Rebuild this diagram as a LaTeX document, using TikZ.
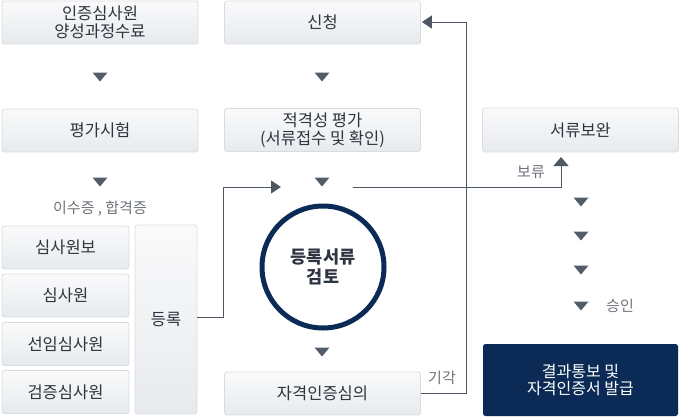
\documentclass[tikz,border=0pt]{standalone}
\usepackage{fontspec}
\setmainfont{Noto Sans CJK KR}
\usetikzlibrary{arrows.meta}
\definecolor{boxtop}{HTML}{FAFAFB}
\definecolor{boxbot}{HTML}{E7EAED}
\definecolor{boxline}{HTML}{D9DCDF}
\definecolor{txt}{HTML}{2E3540}
\definecolor{lbl}{HTML}{6E737A}
\definecolor{tricol}{HTML}{535D6A}
\definecolor{linecol}{HTML}{4E5764}
\definecolor{navy}{HTML}{0B2B56}
\tikzset{
  box/.style={draw=boxline, line width=0.8pt, rounded corners=2.5pt, top color=boxtop, bottom color=boxbot,
    minimum width=196pt, minimum height=43pt, inner sep=0pt, align=center, text=txt,
    font=\fontsize{16.5}{18}\selectfont},
  darkbox/.style={fill=navy, rounded corners=2.5pt, minimum width=195pt, minimum height=72pt,
    inner sep=0pt, align=center, text=white, font=\fontsize{16}{16.5}\selectfont},
  lab/.style={text=lbl, inner sep=0pt, font=\fontsize{15}{15}\selectfont},
  conn/.style={draw=linecol, line width=1pt},
  downtri/.pic={\fill[tricol] (-7.5,-4.5) -- (7.5,-4.5) -- (0,4.5) -- cycle;}
}
\begin{document}
\begin{tikzpicture}[x=1pt,y=-1pt]
\useasboundingbox (0,0) rectangle (679,418);
% left column
\node[box] (b1) at (100,22.5) {인증심사원\\양성과정수료};
\node[box] (b2) at (100,130.5) {평가시험};
\node[lab] (lb1) at (100,209) {이수증 , 합격증};
\node[box, minimum width=127pt] (s1) at (65.5,247.5) {심사원보};
\node[box, minimum width=127pt] (s2) at (65.5,295.5) {심사원};
\node[box, minimum width=127pt] (s3) at (65.5,344) {선임심사원};
\node[box, minimum width=127pt] (s4) at (65.5,392) {검증심사원};
\node[box, minimum width=62pt, minimum height=189pt] (reg) at (166,319.5) {등록};
% middle column
\node[box] (m1) at (322.5,22.5) {신청};
\node[box] (m2) at (322.5,130) {적격성 평가\\(서류접수 및 확인)};
\node[draw=navy, line width=5pt, circle, minimum size=122pt, inner sep=0pt, align=center, text=txt,
  font=\fontsize{17.5}{19.5}\selectfont\bfseries] (c) at (323,267) {등록서류\\검토};
\node[box] (m3) at (322.5,393.5) {자격인증심의};
% right column
\node[box, minimum height=44pt] (r1) at (580.5,130) {서류보완};
\node[darkbox] (r2) at (580.5,380) {결과통보 및\\자격인증서 발급};
\node[lab] (lb2) at (531,172) {보류};
\node[lab] (lb3) at (620,306) {승인};
\node[lab] (lb4) at (442,378) {기각};
% triangles
\foreach \p in {(100,77),(100,182),(322,77),(322,182),(322,352),(581,202),(581,236),(581,270),(581,306)}
  \pic at \p {downtri};
% connectors
\coordinate (regout) at (reg.east |- 0,317);
\coordinate (tipA) at (281,187);
\draw[conn, -{Triangle[width=13pt,length=10pt]}] (regout) -| (223,187) -- (tipA);
\coordinate (holdstart) at (353,187);
\coordinate (tipB) at (561,157);
\draw[conn, -{Triangle[width=15pt,length=9pt]}] (holdstart) -| (tipB);
\coordinate (loopA) at (466,393);
\coordinate (loopB) at (466,22);
\draw[conn, -{Triangle[width=13pt,length=10pt]}] (m3.east |- loopA) -- (loopA) -- (loopB) -- ([xshift=1pt]m1.east |- loopB);
\end{tikzpicture}
\end{document}
